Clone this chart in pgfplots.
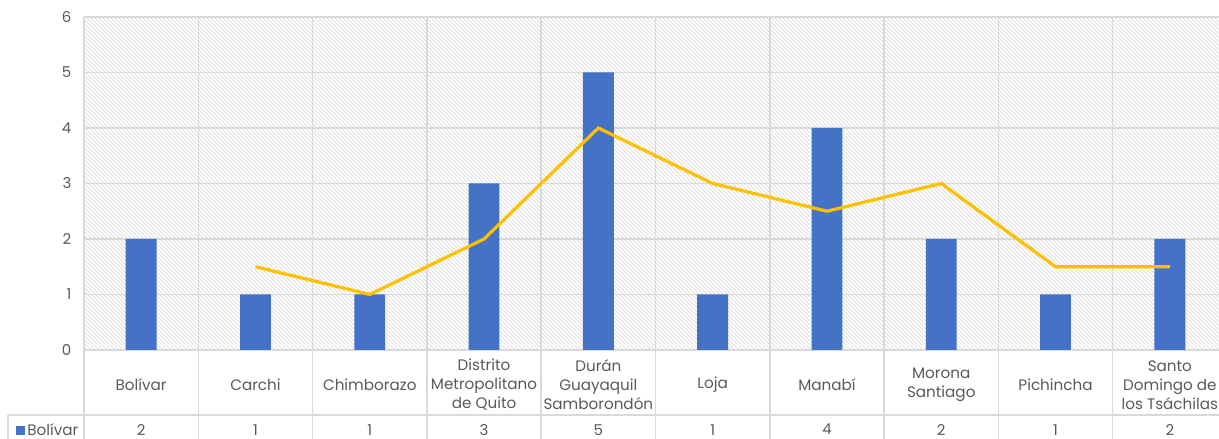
\documentclass[border=0pt]{standalone}
\usepackage{pgfplots}
\pgfplotsset{compat=1.18}
\usepackage{pgfplotstable}
\usepackage{fontspec}
\setmainfont{Poppins}
\usetikzlibrary{patterns}
\definecolor{gridgray}{HTML}{D9D9D9}
\definecolor{hatchgray}{HTML}{D4D4D4}
\definecolor{textgray}{HTML}{595959}
\definecolor{barblue}{HTML}{4472C4}
\definecolor{linegold}{HTML}{FFC000}
\pgfplotstableread{
x v
0 2
1 1
2 1
3 3
4 5
5 1
6 4
7 2
8 1
9 2
}\bars
\pgfplotstableread{
x m
1 1.5
2 1
3 2
4 4
5 3
6 2.5
7 3
8 1.5
9 1.5
}\avg
\begin{document}
\begin{tikzpicture}
\begin{axis}[
  scale only axis,
  width=857.25pt, height=249.75pt,
  xmin=-0.5, xmax=9.5, ymin=0, ymax=6,
  clip=false,
  axis line style={draw=none},
  axis background/.style={pattern=north west lines, pattern color=hatchgray},
  major tick length=0, minor tick length=0,
  ytick={0,1,...,6},
  ymajorgrids,
  xminorgrids,
  minor xtick={-0.5,0.5,...,9.5},
  grid style={gridgray, line width=1.1pt},
  minor grid style={gridgray, line width=1.1pt},
  xtick={0,...,9},
  xticklabels={Bolívar,Carchi,Chimborazo,{Distrito\\Metropolitano\\de Quito},{Durán\\Guayaquil\\Samborondón},Loja,Manabí,{Morona\\Santiago},Pichincha,{Santo\\Domingo de\\los Tsáchilas}},
  xticklabel style={align=center, anchor=center, yshift=-26.2pt, text=textgray, font=\fontsize{11.4}{14.2}\selectfont},
  yticklabel style={xshift=-6pt, text=textgray, font=\fontsize{11.2}{13}\selectfont},
  /pgf/number format/assume math mode=true,
]
\addplot[ybar, bar width=0.27, fill=barblue, draw=none] table[x=x, y=v] {\bars};
\addplot[linegold, line width=2.4pt, mark=none] table[x=x, y=m] {\avg};
% table grid
\pgfplotsinvokeforeach{-0.5,0.5,...,9.5}{
  \draw[gridgray, line width=1.1pt] (axis cs:#1,0) -- (axis cs:#1,-1.75);
}
\draw[gridgray, line width=1.1pt] (axis cs:-1.165,-1.171) -- (axis cs:9.5,-1.171);
\draw[gridgray, line width=1.1pt] (axis cs:-1.165,-1.171) -- (axis cs:-1.165,-1.75);
\addplot[draw=none, mark=none, nodes near coords, point meta=explicit symbolic,
  every node near coord/.append style={anchor=center, text=textgray, font=\fontsize{11.2}{13}\selectfont}]
  table[x=x, y expr=-1.435, meta=v] {\bars};
\node[anchor=west, inner sep=0pt, text=textgray, font=\fontsize{11.4}{13}\selectfont] at (axis cs:-1.097,-1.435)
  {\textcolor{barblue}{\rule{7pt}{7pt}}\hspace{1.5pt}Bolívar};
\coordinate (BL) at (axis cs:-1.235,-1.604);
\coordinate (TR) at (axis cs:9.430,6.306);
\end{axis}
\pgfresetboundingbox
\path[use as bounding box] (BL) rectangle (TR);
\end{tikzpicture}
\end{document}
